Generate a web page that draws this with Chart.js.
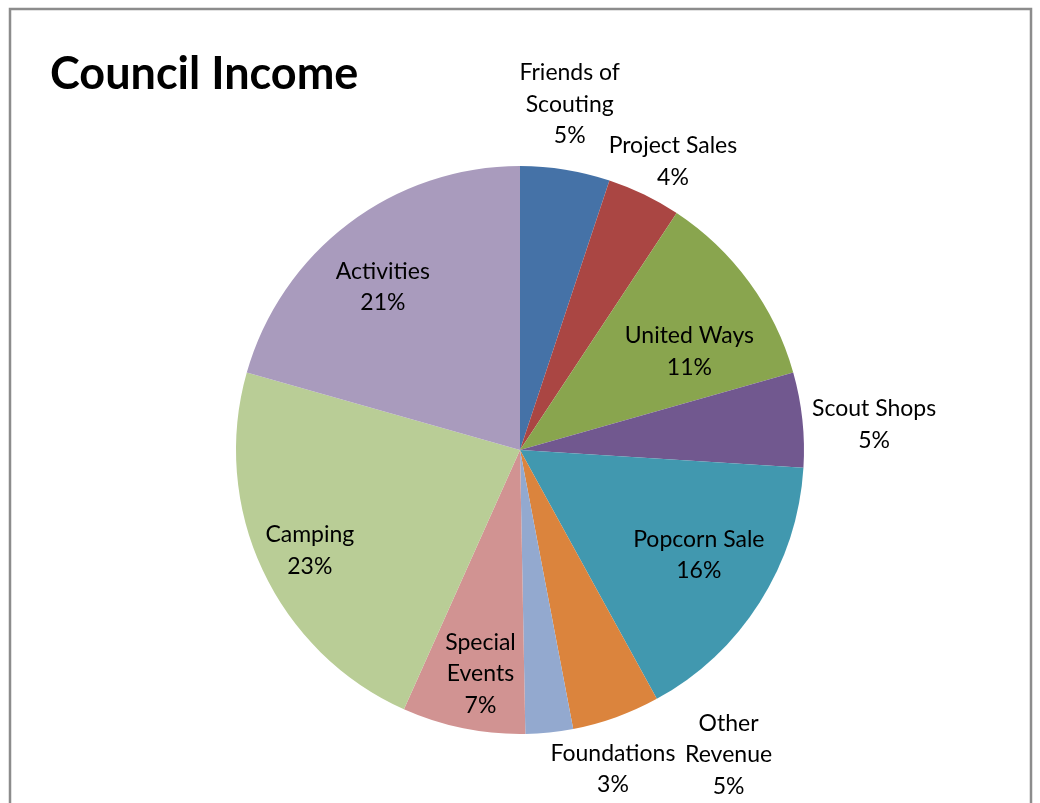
<!DOCTYPE html>
<html>
<head>
<meta charset="utf-8">
<title>Council Income</title>
<script src="https://cdn.jsdelivr.net/npm/chart.js@4"></script>
<style>
    html, body { margin: 0; padding: 0; background: #fff; }
    canvas { display: block; }
</style>
</head>
<body>
<canvas id="incomeChart" width="1040" height="803"></canvas>
<script>
// ======================================================
// DATA
// ======================================================
const categories = [
    ["Friends of", "Scouting"],
    ["Project Sales"],
    ["United Ways"],
    ["Scout Shops"],
    ["Popcorn Sale"],
    ["Other", "Revenue"],
    ["Foundations"],
    ["Special", "Events"],
    ["Camping"],
    ["Activities"]
];
const shares = [5.1, 4.2, 11.3, 5.4, 16.0, 5.0, 2.7, 7.0, 22.7, 20.6];
const sliceColors = [
    "#4572A7", "#AA4643", "#89A54E", "#71588F", "#4198AF",
    "#DB843D", "#93A9CF", "#D19392", "#B9CD96", "#A99BBD"
];

// label placement: radius factor + angle nudge (deg) per slice
const labelPlace = [
    { r: 1.23, da: -1 },
    { r: 1.15, da: 2 },
    { r: 0.69, da: 6 },
    { r: 1.25, da: 2 },
    { r: 0.73, da: -2 },
    { r: 1.30, da: -14.6 },
    { r: 1.17, da: -10.3 },
    { r: 0.80, da: -1.5 },
    { r: 0.82, da: -0.5 },
    { r: 0.75, da: -3 }
];

const FONT = "Lato, 'Open Sans', sans-serif";

// ======================================================
// PLUGIN: frame, title and data labels
// ======================================================
const decorPlugin = {
    id: "decor",
    beforeDraw(chart) {
        const ctx = chart.ctx;
        ctx.save();
        ctx.strokeStyle = "#8c8c8c";
        ctx.lineWidth = 2.5;
        ctx.beginPath();
        ctx.moveTo(10, 810);
        ctx.lineTo(10, 9);
        ctx.lineTo(1031, 9);
        ctx.lineTo(1031, 810);
        ctx.stroke();
        ctx.restore();
    },
    afterDraw(chart) {
        const ctx = chart.ctx;
        ctx.save();

        // title
        ctx.fillStyle = "#000";
        ctx.font = `bold 45px ${FONT}`;
        ctx.textAlign = "left";
        ctx.textBaseline = "middle";
        ctx.fillText("Council Income", 50, 74);

        // slice labels
        const meta = chart.getDatasetMeta(0);
        const total = shares.reduce((a, b) => a + b, 0);
        ctx.font = `23px ${FONT}`;
        ctx.textAlign = "center";

        meta.data.forEach((arc, i) => {
            const p = arc.getProps(["x", "y", "startAngle", "endAngle", "outerRadius"], true);
            const mid = (p.startAngle + p.endAngle) / 2 + labelPlace[i].da * Math.PI / 180;
            const dist = p.outerRadius * labelPlace[i].r;
            const cx = p.x + Math.cos(mid) * dist;
            const cy = p.y + Math.sin(mid) * dist;

            const lines = categories[i].concat([Math.round(shares[i] * 100 / total) + "%"]);
            const lh = 31.5;
            const top = cy - (lines.length - 1) * lh / 2;
            lines.forEach((t, k) => ctx.fillText(t, cx, top + k * lh));
        });

        ctx.restore();
    }
};

// ======================================================
// CHART
// ======================================================
new Chart(document.getElementById("incomeChart"), {
    type: "pie",
    data: {
        labels: categories,
        datasets: [{
            data: shares,
            backgroundColor: sliceColors,
            borderWidth: 0
        }]
    },
    options: {
        responsive: false,
        animation: false,
        layout: {
            padding: { top: 166, bottom: 69, left: 236, right: 236 }
        },
        plugins: {
            legend: { display: false },
            title: { display: false },
            tooltip: { enabled: false }
        }
    },
    plugins: [decorPlugin]
});
</script>
</body>
</html>
